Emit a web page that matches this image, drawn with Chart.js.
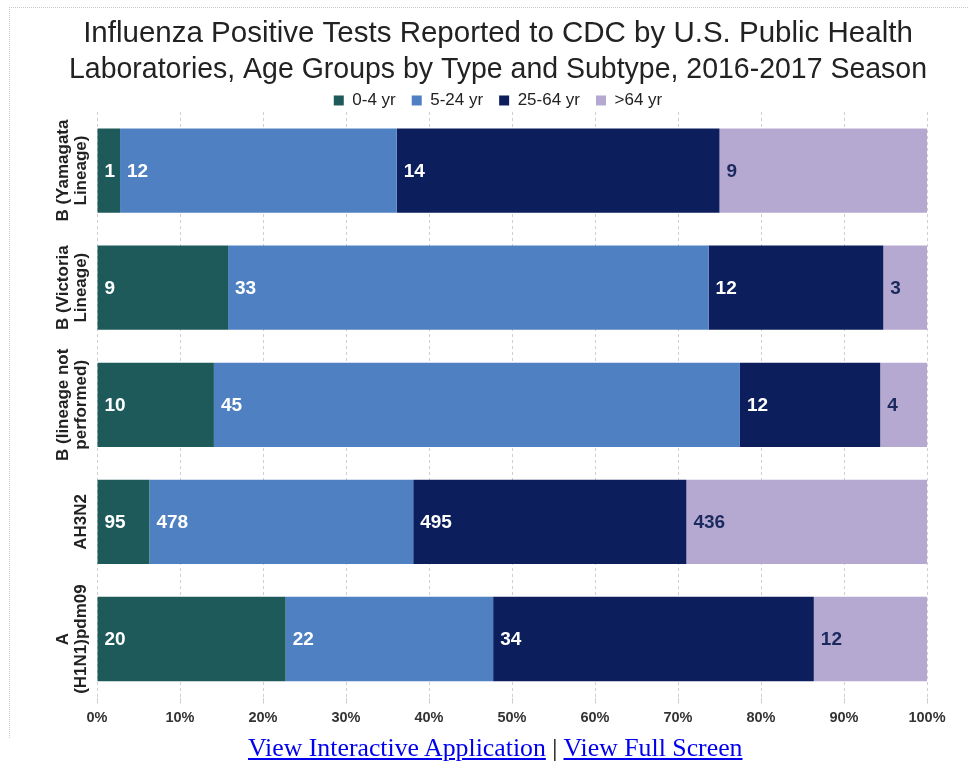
<!DOCTYPE html>
<html>
<head>
<meta charset="utf-8">
<script src="https://cdn.jsdelivr.net/npm/chart.js@4/dist/chart.umd.min.js"></script>
<style>
  html, body { margin: 0; padding: 0; background: #fff; }
  #wrap { position: relative; width: 969px; height: 765px; overflow: hidden; }
  #frame { position: absolute; left: 9px; top: 7px; width: 980px; height: 730px;
           border-top: 1px dotted #c8c8c8; border-left: 1px dotted #c8c8c8; }
  #box { position: absolute; left: 0; top: 0; width: 969px; height: 735px; }
  #links { position: absolute; left: 248px; top: 733px; font-family: "Liberation Serif", "Times New Roman", serif;
           font-size: 25.8px; color: #000; white-space: nowrap; }
  #links a { color: #0000ee; text-decoration: underline; }
</style>
</head>
<body>
<div id="wrap">
  <div id="frame"></div>
  <div id="box"><canvas id="c"></canvas></div>
  <div id="links"><a href="#">View Interactive Application</a> | <a href="#">View Full Screen</a></div>
</div>
<script>
// ---- data ----
const categories = [
  ["B (Yamagata", "Lineage)"],
  ["B (Victoria", "Lineage)"],
  ["B (lineage not", "performed)"],
  ["AH3N2"],
  ["A", "(H1N1)pdm09"]
];
const seriesNames = ["0-4 yr", "5-24 yr", "25-64 yr", ">64 yr"];
const age0to4   = [1, 9, 10, 95, 20];
const age5to24  = [12, 33, 45, 478, 22];
const age25to64 = [14, 12, 12, 495, 34];
const age65plus = [9, 3, 4, 436, 12];
const xTicks = [0, 10, 20, 30, 40, 50, 60, 70, 80, 90, 100];

const seriesColors = ["#1f5a5b", "#4f81c2", "#0c1f5c", "#b6a9d1"];
const labelColors = ["#ffffff", "#ffffff", "#ffffff", "#1b2a5e"];

const counts = [age0to4, age5to24, age25to64, age65plus];
const totals = categories.map((_, i) => counts.reduce((s, arr) => s + arr[i], 0));
const pct = counts.map(arr => arr.map((v, i) => v / totals[i] * 100));

const FONT = "'Liberation Sans', Arial, sans-serif";

const datasets = seriesNames.map((name, k) => ({
  label: name,
  data: pct[k],
  counts: counts[k],
  backgroundColor: seriesColors[k],
  borderWidth: 0,
  barPercentage: 0.72,
  categoryPercentage: 1.0
}));

const valueLabels = {
  id: 'valueLabels',
  afterDatasetsDraw(chart) {
    const ctx = chart.ctx;
    ctx.save();
    ctx.font = "bold 19px " + FONT;
    ctx.textBaseline = 'middle';
    ctx.textAlign = 'left';
    chart.data.datasets.forEach((ds, k) => {
      const meta = chart.getDatasetMeta(k);
      meta.data.forEach((el, i) => {
        const left = Math.min(el.base, el.x);
        ctx.fillStyle = labelColors[k];
        ctx.fillText(String(ds.counts[i]), left + 7, el.y + 1);
      });
    });
    ctx.restore();
  }
};

const yLabels = {
  id: 'yLabels',
  afterDraw(chart) {
    const ctx = chart.ctx;
    const ys = chart.scales.y;
    ctx.save();
    ctx.font = "bold 17px " + FONT;
    ctx.fillStyle = '#222';
    ctx.textAlign = 'center';
    ctx.textBaseline = 'middle';
    categories.forEach((lines, i) => {
      const y = ys.getPixelForTick(i);
      const n = lines.length;
      lines.forEach((t, j) => {
        const x = 81 - (n - 1 - j) * 18;
        ctx.save();
        ctx.translate(x, y);
        ctx.rotate(-Math.PI / 2);
        ctx.fillText(t, 0, 0);
        ctx.restore();
      });
    });
    ctx.restore();
  }
};

// nudge the legend down into the space above the plot
const legendShift = {
  id: 'legendShift',
  afterLayout(chart) {
    const lg = chart.legend;
    if (lg) { lg.top += 7; lg.bottom += 7; }
  }
};

new Chart(document.getElementById('c'), {
  type: 'bar',
  data: { labels: categories, datasets },
  plugins: [valueLabels, yLabels, legendShift],
  options: {
    indexAxis: 'y',
    responsive: true,
    maintainAspectRatio: false,
    animation: false,
    layout: { padding: { top: 4, left: 69, right: 42, bottom: 2 } },
    plugins: {
      title: {
        display: true,
        text: ["Influenza Positive Tests Reported to CDC by U.S. Public Health",
               "Laboratories, Age Groups by Type and Subtype, 2016-2017 Season"],
        color: '#222',
        font: { family: FONT, size: 29.5, weight: 'normal', lineHeight: 1.22 },
        padding: { top: 12, bottom: -19 }
      },
      legend: {
        display: true,
        position: 'top',
        labels: {
          color: '#222',
          font: { family: FONT, size: 17 },
          boxWidth: 10, boxHeight: 10,
          padding: 16
        }
      },
      tooltip: { enabled: false }
    },
    scales: {
      x: {
        stacked: true,
        min: 0, max: 100,
        afterBuildTicks(scale) { scale.ticks = xTicks.map(v => ({ value: v })); },
        ticks: {
          callback: v => v + '%',
          color: '#333',
          font: { family: FONT, size: 14.5, weight: 'bold' },
          padding: 6,
          maxRotation: 0
        },
        grid: { color: '#cfcfcf', tickLength: 6, drawOnChartArea: true },
        border: { display: false, dash: [3, 3] }
      },
      y: {
        stacked: true,
        ticks: { display: false },
        grid: { display: false },
        border: { display: false },
        afterFit(scale) { scale.width = 28; }
      }
    }
  }
});
</script>
</body>
</html>
